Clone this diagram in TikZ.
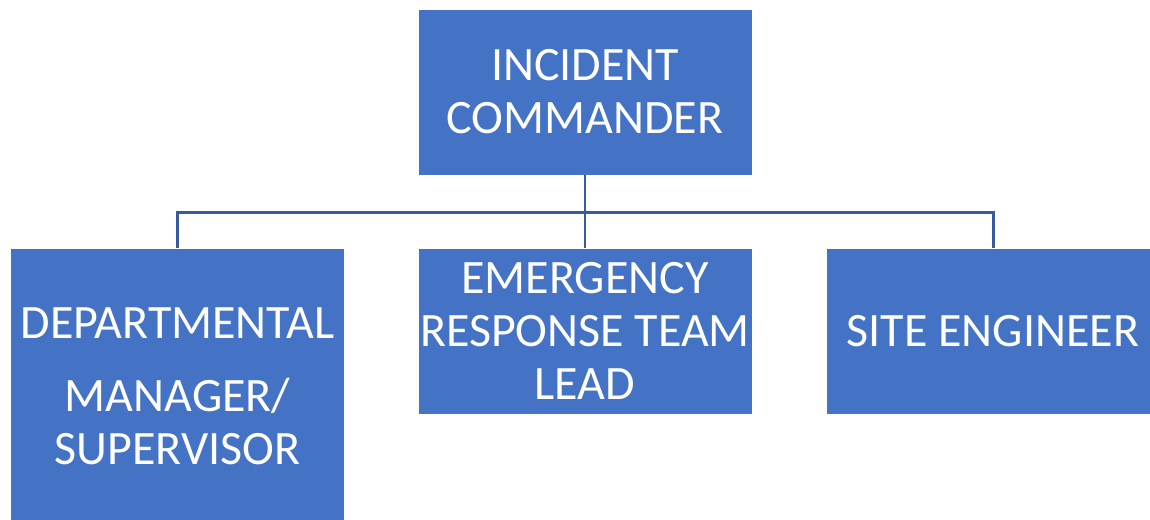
\documentclass[tikz,border=0pt]{standalone}
\usepackage{fontspec}
\setmainfont{Carlito}
\usepackage{tikz}

\definecolor{boxblue}{RGB}{68,114,196}
\definecolor{linkblue}{RGB}{56,90,160}

\tikzset{
  role/.style={rectangle, fill=boxblue, draw=white, line width=0.4pt,
    text=white, align=center, inner sep=0pt,
    minimum width=6.68cm, minimum height=3.32cm,
    font={\fontsize{27.3pt}{30.2pt}\selectfont}},
  link/.style={draw=linkblue, line width=1.7pt}
}

\begin{document}
\begin{tikzpicture}

    \useasboundingbox (0,0) rectangle (23,-10.4);

    \node[role] (ic) at (11.7,-1.84) {INCIDENT\\COMMANDER};

    \node[role, minimum height=5.54cm] (dm) at (3.55,-7.73)
      {DEPARTMENTAL\\[0.4cm]MANAGER/\\SUPERVISOR};

    \node[role] (ert) at (11.7,-6.62) {EMERGENCY\\RESPONSE TEAM\\LEAD};

    \node[role] (se) at (19.86,-6.62) {SITE ENGINEER};


    \draw[link] (ic.south) -- ++(0,-0.74) -| (dm.north);

    \draw[link] (ic.south) -- (ert.north);

    \draw[link] (ic.south) -- ++(0,-0.74) -| (se.north);

  \end{tikzpicture}
\end{document}
